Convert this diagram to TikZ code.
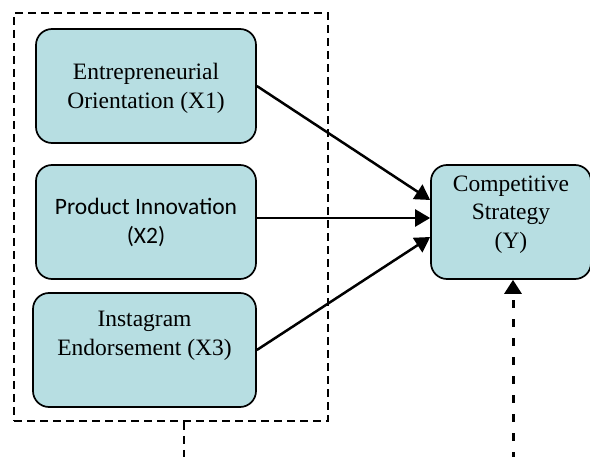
\documentclass[tikz,border=0pt]{standalone}
\usepackage{fontspec}
\setmainfont{Liberation Serif}
\newfontfamily\calibrifont{Carlito}
\usepackage{xcolor}
\usetikzlibrary{positioning, arrows.meta}
\definecolor{boxfill}{RGB}{183,222,226}

\begin{document}
\begin{tikzpicture}[
  x=1pt, y=-1pt,
  factornode/.style={draw=black, line width=1.7pt, fill=boxfill, rounded corners=16pt,
    minimum height=114pt, align=center, inner sep=0pt,
    font=\fontsize{23.5}{28.5}\selectfont},
  pathline/.style={line width=2.5pt, -{Triangle[length=15pt, width=17pt]}},
  framenode/.style={draw=black, line width=1.7pt, dash pattern=on 8pt off 5pt,
    minimum width=314pt, minimum height=408pt, inner sep=0pt}
]
  \useasboundingbox (0,0) rectangle (590,457);

  % Independent variables
  \node[factornode, minimum width=220pt, text height=50pt] (x1) at (146,86)
    {Entrepreneurial\\Orientation (X1)};
  \node[factornode, minimum width=220pt, font=\calibrifont\fontsize{23.5}{29}\selectfont] (x2) at (146,222)
    {Product Innovation\\(X2)};
  \node[factornode, minimum width=223pt, text depth=33pt] (x3) at (144.5,350)
    {Instagram\\Endorsement (X3)};

  % Dependent variable
  \node[factornode, minimum width=160pt, text depth=20pt] (y) at (511,222)
    {Competitive\\Strategy\\(Y)};

  % Frame round the X's
  \node[framenode] (frame) at (171,217) {};

  % Arrows
  \draw[pathline] (x1.east) -- ([yshift=22pt]y.west);
  \draw[pathline] ([yshift=4pt]x2.east) -- ([yshift=4pt]y.west);
  \draw[pathline] (x3.east) -- ([yshift=-15pt]y.west);

  % Dashed links
  \coordinate (xout) at (184,460);
  \coordinate (yin) at (513,460);
  \draw[line width=2.4pt, dash pattern=on 8pt off 6pt] ([xshift=13pt]frame.south) -- (xout);
  \draw[line width=3pt, dash pattern=on 8pt off 11pt, -{Triangle[length=14pt, width=17pt]}]
    (yin) -- (yin |- y.south);
\end{tikzpicture}
\end{document}
